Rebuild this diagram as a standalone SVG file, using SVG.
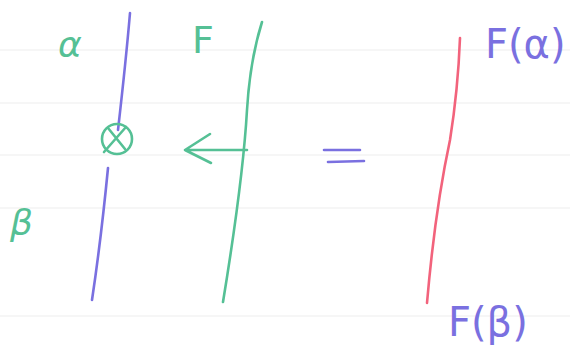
<svg xmlns="http://www.w3.org/2000/svg" width="570" height="353" viewBox="0 0 570 353">
<style>
.rule{stroke:#f3f3f3;stroke-width:1.5}
.b{stroke:#7a70e0;fill:none;stroke-width:2.6;stroke-linecap:round;stroke-linejoin:round}
.g{stroke:#55c095;fill:none;stroke-width:2.6;stroke-linecap:round;stroke-linejoin:round}
.r{stroke:#f2637c;fill:none;stroke-width:2.6;stroke-linecap:round}
.tg{fill:#55c095;font-family:"DejaVu Sans",sans-serif}
.tb{fill:#7a70e0;font-family:"DejaVu Sans",sans-serif}
</style>
<rect width="570" height="353" fill="#fff"/>
<g id="rules">
<line class="rule" x1="0" y1="50" x2="570" y2="50"/>
<line class="rule" x1="0" y1="103" x2="570" y2="103"/>
<line class="rule" x1="0" y1="155" x2="570" y2="155"/>
<line class="rule" x1="0" y1="208" x2="570" y2="208"/>
<line class="rule" x1="0" y1="316" x2="570" y2="316"/>
</g>
<g id="alpha-strand">
<path class="b" d="M130 13 Q126 60 118 130"/>
<path class="b" d="M108 168 Q101 240 92 300"/>
</g>
<g id="crossing">
<circle class="g" cx="117" cy="139" r="15"/>
<path class="g" d="M108 128 L125 149 M126 127 L104 152"/>
</g>
<g id="F-strand">
<path class="g" d="M262 22 Q250 60 247 110 Q243 180 223 302"/>
</g>
<g id="connectors">
<path class="g" d="M247 150 L185 150 M210 134 L185 150 L211 163"/>
</g>
<g id="equals">
<path class="b" d="M324 150 L360 150 M328 162 L364 161"/>
</g>
<g id="result">
<path class="r" d="M460 38 Q458 90 450 140 Q435 210 427 303"/>
</g>
<g id="labels">
<text class="tg" x="58" y="57" font-size="36" font-style="italic">α</text>
<text class="tg" x="192" y="53" font-size="38">F</text>
<text class="tg" x="10" y="235" font-size="36" font-style="italic">β</text>
<text class="tb" x="485" y="58" font-size="40">F(α)</text>
<text class="tb" x="448" y="336" font-size="40">F(β)</text>
</g>
</svg>
